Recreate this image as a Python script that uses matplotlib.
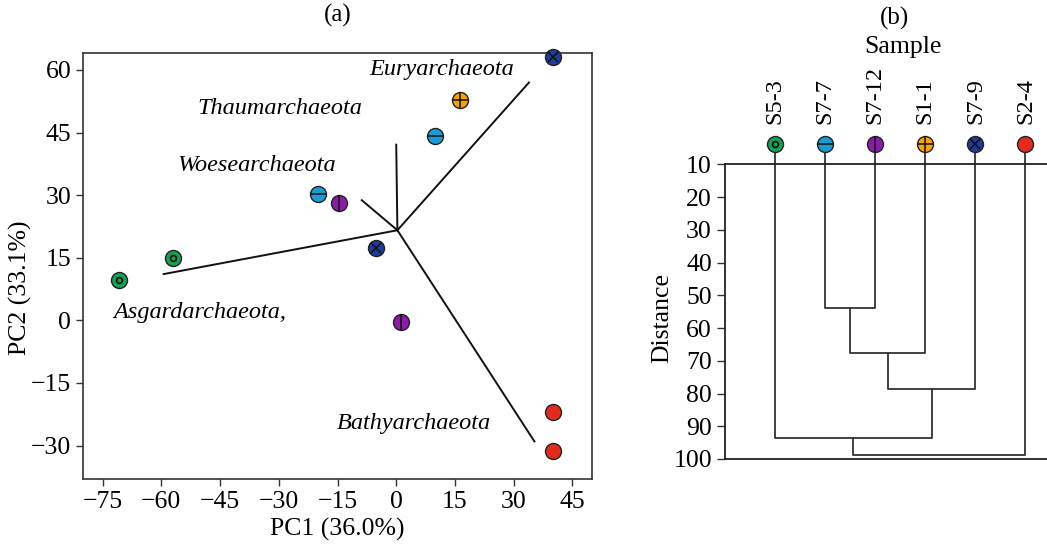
import matplotlib
matplotlib.use('Agg')
import matplotlib.pyplot as plt

plt.rcParams['font.family'] = ['Liberation Serif', 'DejaVu Serif']
plt.rcParams['font.size'] = 17.5
plt.rcParams['axes.unicode_minus'] = True

# samples, colours, inner symbols
samples = ['S5-3', 'S7-7', 'S7-12', 'S1-1', 'S7-9', 'S2-4']
colors = ['#16a052', '#1b9bd2', '#8a1ca8', '#f6a20a', '#1f3d98', '#e02b1f']
symbols = ['o', '_', '|', '+', 'x', None]

# PCA scores for each sample
pc1 = [[-70.7, -57.0], [-20.0, 10.0], [-14.5, 1.3], [16.2], [-5.1, 40.1], [40.1, 40.1]]
pc2 = [[9.7, 15.0], [30.2, 44.3], [28.2, -0.4], [52.8], [17.3, 63.0], [-22.0, -31.2]]

# loading lines (from origin of the biplot)
origin = (0.3, 21.6)
load_x = [-59.4, -8.8, 0.0, 33.9, 35.3]
load_y = [11.1, 28.8, 42.1, 57.0, -29.0]

taxa = ['Euryarchaeota', 'Thaumarchaeota', 'Woesearchaeota', 'Asgardarchaeota,', 'Bathyarchaeota']
taxa_x = [11.5, -29.7, -35.7, -50.2, 4.4]
taxa_y = [60.1, 50.8, 37.1, 2.0, -24.6]

# dendrogram: leaf order and merges (child a, child b, distance)
leaf_order = ['S5-3', 'S7-7', 'S7-12', 'S1-1', 'S7-9', 'S2-4']
merges = [
    (1, 2, 53.9),
    (6, 3, 67.5),
    (7, 4, 78.6),
    (0, 8, 93.7),
    (9, 5, 98.9),
]
leaf_top = 3.7


def draw_marker(ax, x, y, col, sym, clip=True):
    ax.plot(x, y, 'o', ms=11.5, mfc=col, mec='#222222', mew=1.0, clip_on=clip, zorder=5)
    if sym == 'o':
        ax.plot(x, y, 'o', ms=4.2, mfc='none', mec='#111111', mew=1.2, clip_on=clip, zorder=6)
    elif sym == 'x':
        ax.plot(x, y, 'x', ms=7.5, mec='#111111', mew=1.1, clip_on=clip, zorder=6)
    elif sym is not None:
        ax.plot(x, y, sym, ms=11.0, mec='#111111', mew=1.1, clip_on=clip, zorder=6)


fig = plt.figure(figsize=(10.47, 5.54), dpi=100)

####### (a) PCA biplot #######
ax1 = fig.add_axes([0.0793, 0.1354, 0.4861, 0.7684])
for lx, ly in zip(load_x, load_y):
    ax1.plot([origin[0], lx], [origin[1], ly], color='#111111', lw=1.4)
for i in range(len(samples)):
    for x, y in zip(pc1[i], pc2[i]):
        draw_marker(ax1, x, y, colors[i], symbols[i], clip=False)
for t, x, y in zip(taxa, taxa_x, taxa_y):
    ax1.text(x, y, t, style='italic', ha='center', va='center', fontsize=17.5)

ax1.set_xlim(-80, 50)
ax1.set_ylim(-38, 64)
ax1.set_xticks(range(-75, 46, 15))
ax1.set_yticks(range(-30, 61, 15))
ax1.set_xlabel('PC1 (36.0%)', fontsize=18.5)
ax1.set_ylabel('PC2 (33.1%)', fontsize=18.5)
ax1.yaxis.set_label_coords(-0.1, 0.45)
ax1.tick_params(direction='out', length=5, width=1, color='#333333', labelsize=18.5)
for s in ax1.spines.values():
    s.set_color('#333333')
    s.set_linewidth(1.2)
fig.text(0.3225, 0.972, '(a)', ha='center', va='center', fontsize=18)

####### (b) dendrogram #######
ax2 = fig.add_axes([0.6925, 0.1715, 0.3075, 0.5316])
xs = list(range(1, len(leaf_order) + 1))
ys = [leaf_top] * len(leaf_order)
for a, b, h in merges:
    xa, ya, xb, yb = xs[a], ys[a], xs[b], ys[b]
    ax2.plot([xa, xa, xb, xb], [ya, h, h, yb], color='#333333', lw=1.3, clip_on=False, zorder=2)
    xs.append((xa + xb) / 2)
    ys.append(h)
for i, name in enumerate(leaf_order):
    k = samples.index(name)
    draw_marker(ax2, i + 1, leaf_top, colors[k], symbols[k], clip=False)
    ax2.annotate(name, (i + 1, leaf_top), xytext=(0, 14), textcoords='offset points',
                 rotation=90, ha='center', va='bottom', fontsize=17.5, annotation_clip=False)

ax2.set_xlim(0, 6.43)
ax2.set_ylim(100, 10)
ax2.set_yticks(range(10, 101, 10))
ax2.set_xticks([])
ax2.spines['right'].set_visible(False)
for s in ['left', 'top', 'bottom']:
    ax2.spines[s].set_color('#222222')
    ax2.spines[s].set_linewidth(1.3)
ax2.tick_params(direction='out', length=6, width=1, color='#333333', labelsize=18.5)
ax2.set_ylabel('Distance', fontsize=18.5)
ax2.yaxis.set_label_coords(-0.16, 0.48)
fig.text(0.854, 0.967, '(b)', ha='center', va='center', fontsize=18)
fig.text(0.8625, 0.915, 'Sample', ha='center', va='center', fontsize=18.5)

plt.savefig('out.png', dpi=100)
